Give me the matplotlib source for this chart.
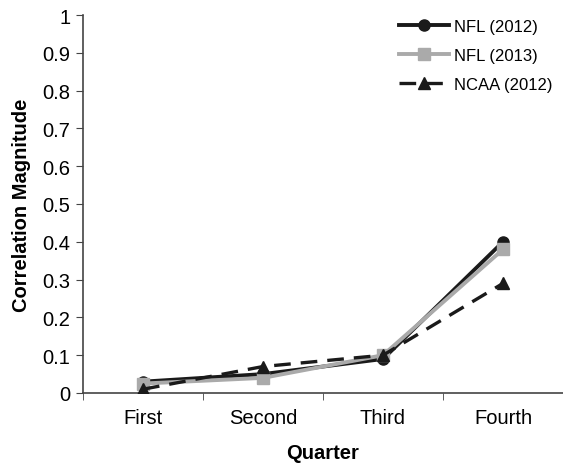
import numpy as np
import matplotlib
matplotlib.use('Agg')
import matplotlib.pyplot as plt

plt.rcParams['font.family'] = ['Liberation Sans', 'DejaVu Sans']

quarters = ['First', 'Second', 'Third', 'Fourth']
nfl_2012 = [0.03, 0.05, 0.09, 0.40]
nfl_2013 = [0.025, 0.04, 0.10, 0.38]
ncaa_2012 = [0.01, 0.07, 0.10, 0.29]

fig = plt.figure(figsize=(5.63, 4.64), dpi=100)
ax = fig.add_axes([83/563, 1 - 394/464, 1 - 83/563, (394 - 16)/464])

x = np.arange(1, len(quarters) + 1)
ax.plot(x, nfl_2012, color='#1a1a1a', lw=2.8, marker='o', ms=8, label='NFL (2012)', zorder=3)
ax.plot(x, nfl_2013, color='#aaaaaa', lw=2.8, marker='s', ms=8, label='NFL (2013)', zorder=4)
ax.plot(x, ncaa_2012, color='#1a1a1a', lw=2.4, ls=(0, (5, 3)), marker='^', ms=8,
        label='NCAA (2012)', zorder=5)

ax.set_xlim(0.5, 4.5)
ax.set_ylim(0, 1)
ax.set_yticks(np.arange(0, 1.01, 0.1))
ax.set_yticklabels(['0'] + ['%.1f' % v for v in np.arange(0.1, 0.95, 0.1)] + ['1'])
ax.set_xticks(x)
ax.set_xticklabels(quarters)
ax.set_xticks(np.arange(0.5, 4.6, 1), minor=True)
ax.tick_params(axis='x', which='major', length=0, pad=11, labelsize=14.5)
ax.tick_params(axis='x', which='minor', length=5, direction='out', color='#444444')
ax.tick_params(axis='y', length=5, direction='out', color='#444444', labelsize=14.5, pad=4)

for s in ['top', 'right']:
    ax.spines[s].set_visible(False)
for s in ['left', 'bottom']:
    ax.spines[s].set_color('#444444')
    ax.spines[s].set_linewidth(1.2)

ax.set_xlabel('Quarter', fontsize=14.5, fontweight='bold', labelpad=11)
ax.set_ylabel('Correlation Magnitude', fontsize=14.5, fontweight='bold', labelpad=8)

ax.legend(loc='upper right', frameon=False, fontsize=12, handlelength=3,
          bbox_to_anchor=(1.01, 1.03), labelspacing=0.85, handletextpad=0.3)

fig.savefig('out.png', dpi=100)
